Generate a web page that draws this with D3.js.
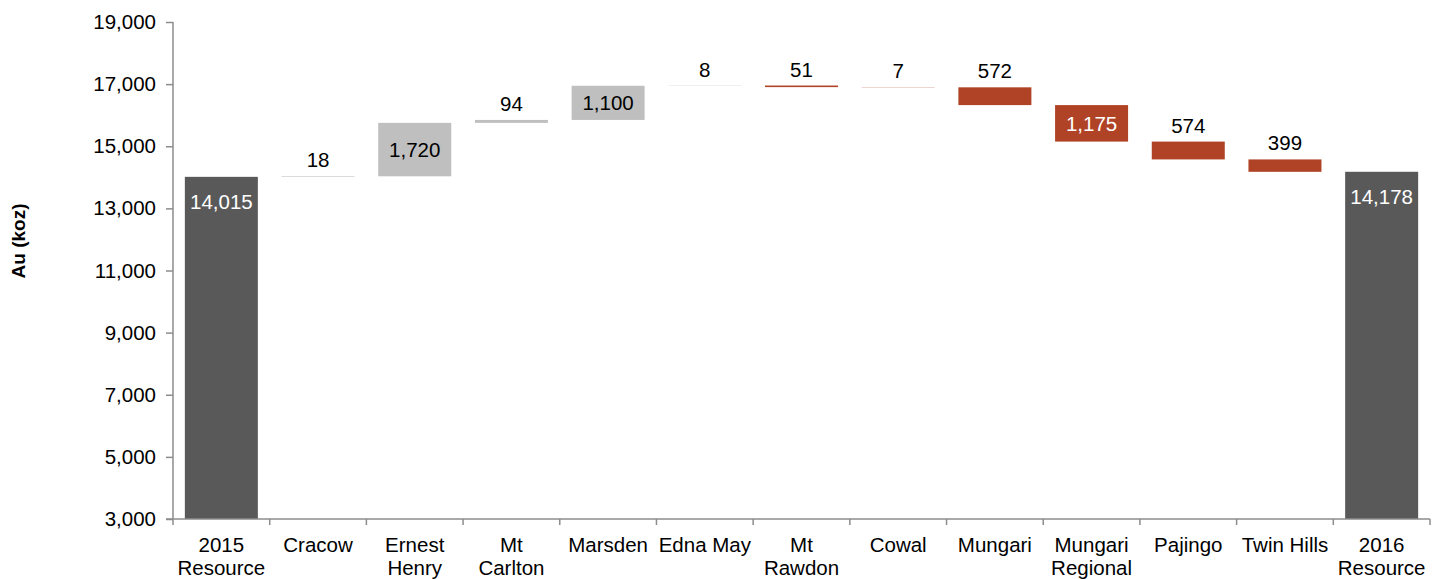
<!DOCTYPE html>
<html>
<head>
<meta charset="utf-8">
<script src="https://cdn.jsdelivr.net/npm/d3@7"></script>
<style>
  html, body { margin: 0; padding: 0; background: #fff; }
  svg { display: block; font-family: Arial, "Liberation Sans", sans-serif; }
</style>
</head>
<body>
<svg id="chart" width="1442" height="579"></svg>
<script>
// ---- data ----
const categories = ["2015\nResource", "Cracow", "Ernest\nHenry", "Mt\nCarlton", "Marsden", "Edna May",
  "Mt\nRawdon", "Cowal", "Mungari", "Mungari\nRegional", "Pajingo", "Twin Hills", "2016\nResource"];
const values = [14015, 18, 1720, 94, 1100, 8, -51, -7, -572, -1175, -574, -399, 14178];
const kinds = ["total", "delta", "delta", "delta", "delta", "delta", "delta", "delta", "delta", "delta", "delta", "delta", "total"];
const yTicks = [3000, 5000, 7000, 9000, 11000, 13000, 15000, 17000, 19000];
const yTitle = "Au (koz)";

(function () {
// ---- layout ----
const svg = d3.select("#chart");
const mLeft = 173, mRight = 1430, mTop = 22, mBottom = 519;
const yMin = 3000, yMax = 19000;

const x = d3.scaleBand().domain(categories).range([mLeft, mRight]).padding(0);
const y = d3.scaleLinear().domain([yMin, yMax]).range([mBottom, mTop]);
const step = x.step();
const barW = step * 0.755;
const fmt = d3.format(",");

// compute waterfall segments
let cum = 0;
const bars = categories.map((c, i) => {
  const v = values[i];
  let lo, hi;
  if (kinds[i] === "total") { lo = yMin; hi = v; cum = v; }
  else { const start = cum; cum = start + v; lo = Math.min(start, cum); hi = Math.max(start, cum); }
  return { c, v, kind: kinds[i], lo, hi };
});

const colorOf = d => d.kind === "total" ? "#595959" : (d.v >= 0 ? "#bfbfbf" : "#b04326");
const axisColor = "#8c8c8c";

// bars
svg.append("g").selectAll("rect").data(bars).join("rect")
  .attr("x", d => x(d.c) + (step - barW) / 2)
  .attr("width", barW)
  .attr("y", d => y(d.hi))
  .attr("height", d => y(d.lo) - y(d.hi))
  .attr("fill", colorOf);

// value labels
svg.append("g").selectAll("text").data(bars).join("text")
  .attr("x", d => x(d.c) + step / 2)
  .attr("y", d => {
    const h = y(d.lo) - y(d.hi);
    if (d.kind === "total") return y(d.hi) + 32;
    if (h > 30) return (y(d.hi) + y(d.lo)) / 2 + 7.5;
    return y(d.hi) - 9;
  })
  .attr("text-anchor", "middle")
  .attr("font-size", "20.5px")
  .attr("fill", d => {
    const h = y(d.lo) - y(d.hi);
    if (d.kind === "total") return "#ffffff";
    if (h > 30) return d.v >= 0 ? "#000000" : "#ffffff";
    return "#000000";
  })
  .text(d => fmt(Math.abs(d.v)));

// y axis
const yAxis = svg.append("g")
  .attr("transform", `translate(${mLeft},0)`)
  .call(d3.axisLeft(y).tickValues(yTicks).tickSize(7).tickPadding(10).tickFormat(fmt));
yAxis.select(".domain").attr("stroke", axisColor).attr("stroke-width", 1.5).attr("d", `M0,${mTop}V${mBottom}`);
yAxis.selectAll(".tick line").attr("stroke", axisColor).attr("stroke-width", 1.5);
yAxis.selectAll(".tick text").attr("font-size", "20.5px").attr("fill", "#000").attr("font-family", "Arial, 'Liberation Sans', sans-serif");

// x axis line and boundary ticks
const gx = svg.append("g");
gx.append("line").attr("x1", mLeft - 7).attr("x2", mRight).attr("y1", mBottom).attr("y2", mBottom)
  .attr("stroke", axisColor).attr("stroke-width", 1.5);
gx.selectAll("line.bt").data(d3.range(categories.length + 1)).join("line")
  .attr("class", "bt")
  .attr("x1", i => mLeft + i * step).attr("x2", i => mLeft + i * step)
  .attr("y1", mBottom).attr("y2", mBottom + 6)
  .attr("stroke", axisColor).attr("stroke-width", 1.5);

// category labels
const lab = gx.selectAll("text.cat").data(categories).join("text")
  .attr("class", "cat")
  .attr("text-anchor", "middle")
  .attr("font-size", "20.5px")
  .attr("fill", "#000")
  .attr("transform", d => `translate(${x(d) + step / 2},0)`);
lab.selectAll("tspan").data(d => d.split("\n")).join("tspan")
  .attr("x", 0)
  .attr("y", (d, i) => 552 + i * 23)
  .text(d => d);

// y title
svg.append("text")
  .attr("transform", `translate(25,241) rotate(-90)`)
  .attr("text-anchor", "middle")
  .attr("font-size", "19px")
  .attr("font-weight", "bold")
  .attr("fill", "#000")
  .text(yTitle);
})();
</script>
</body>
</html>
